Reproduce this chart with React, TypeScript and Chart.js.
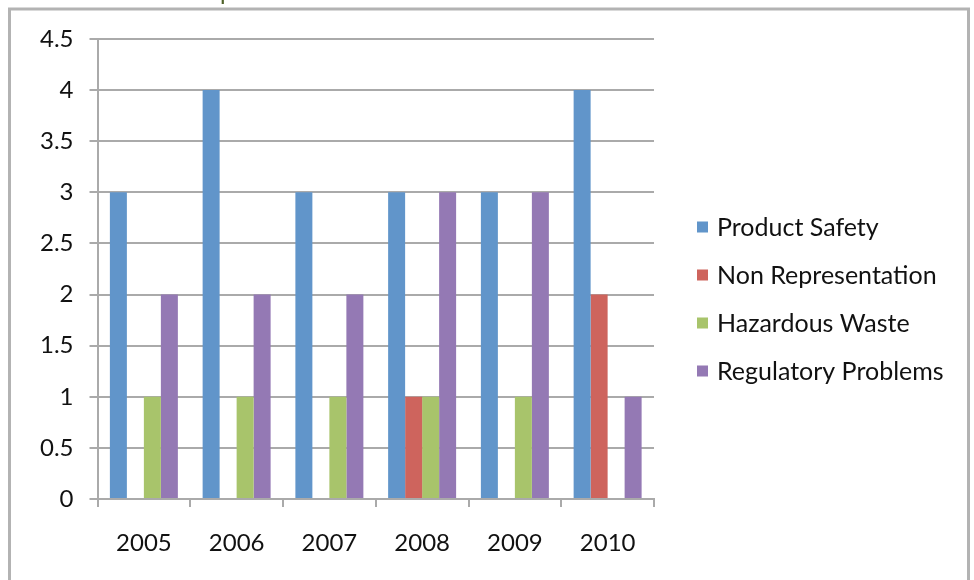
import React, { useEffect, useRef } from "react";
import { Chart, registerables } from "chart.js";

Chart.register(...registerables);

const categories = ["2005", "2006", "2007", "2008", "2009", "2010"];
const productSafety = [3, 4, 3, 3, 3, 4];
const nonRepresentation = [0, 0, 0, 1, 0, 2];
const hazardousWaste = [1, 1, 1, 1, 1, 0];
const regulatoryProblems = [2, 2, 2, 3, 3, 1];
const seriesNames = ["Product Safety", "Non Representation", "Hazardous Waste", "Regulatory Problems"];
const seriesColors = ["#6195CA", "#CE645D", "#A8C46B", "#9479B4"];
const yTickLabels = ["0", "0.5", "1", "1.5", "2", "2.5", "3", "3.5", "4", "4.5"];
const titleFragment = "p";

const FONT = "Lato, 'Open Sans', sans-serif";

export default function App() {
  const ref = useRef<HTMLCanvasElement | null>(null);

  useEffect(() => {
    document.body.style.margin = "0";
    const canvas = ref.current;
    if (!canvas) return;

    const decor = {
      id: "decor",
      beforeDraw(chart: any) {
        const ctx = chart.ctx;
        ctx.save();
        ctx.fillStyle = "#ffffff";
        ctx.fillRect(0, 0, chart.width, chart.height);
        ctx.restore();
      },
      afterDraw(chart: any) {
        const ctx = chart.ctx;
        ctx.save();
        // outer frame
        ctx.strokeStyle = "#B3B3B3";
        ctx.lineWidth = 3;
        ctx.beginPath();
        ctx.moveTo(9.5, 600);
        ctx.lineTo(9.5, 9);
        ctx.lineTo(968.5, 9);
        ctx.lineTo(968.5, 600);
        ctx.stroke();
        // cropped title fragment
        ctx.fillStyle = "#4F6228";
        ctx.font = "24px " + FONT;
        ctx.textBaseline = "alphabetic";
        ctx.textAlign = "left";
        ctx.fillText(titleFragment, 220, 0);
        // legend
        const ys = [227, 275, 323, 371];
        ctx.font = "25px " + FONT;
        ctx.textBaseline = "middle";
        chart.data.datasets.forEach((ds: any, i: number) => {
          ctx.fillStyle = ds.backgroundColor;
          ctx.fillRect(697, ys[i] - 5.5, 11, 11);
          ctx.fillStyle = "#111111";
          ctx.fillText(ds.label, 717, ys[i] + 1);
        });
        ctx.restore();
      },
    };

    const seriesData = [productSafety, nonRepresentation, hazardousWaste, regulatoryProblems];

    const chart = new Chart(canvas, {
      type: "bar",
      data: {
        labels: categories,
        datasets: seriesData.map((d, i) => ({
          label: seriesNames[i],
          data: d,
          backgroundColor: seriesColors[i],
          borderWidth: 0,
          categoryPercentage: 0.733,
          barPercentage: 1.0,
        })),
      },
      options: {
        animation: false,
        responsive: false,
        devicePixelRatio: 1,
        layout: { padding: { left: 0, top: 39, right: 320, bottom: 0 } },
        plugins: {
          legend: { display: false },
          tooltip: { enabled: false },
          title: { display: false },
        },
        scales: {
          x: {
            offset: true,
            grid: {
              drawOnChartArea: false,
              drawTicks: true,
              tickLength: 8,
              color: "#AAAAAA",
              lineWidth: 2,
            },
            border: { display: true, color: "#AAAAAA", width: 2 },
            ticks: {
              color: "#111111",
              font: { family: FONT, size: 24 },
              padding: 22,
            },
            afterFit(scale: any) {
              scale.height = 81;
            },
          },
          y: {
            min: 0,
            max: 4.5,
            ticks: {
              stepSize: 0.5,
              color: "#111111",
              font: { family: FONT, size: 24 },
              padding: 16,
              callback: (_v: any, i: number) => yTickLabels[i],
            },
            grid: {
              color: "#AAAAAA",
              lineWidth: 2,
              tickLength: 8,
              drawTicks: true,
            },
            border: { display: true, color: "#AAAAAA", width: 2 },
            afterFit(scale: any) {
              scale.width = 97.5;
            },
          },
        },
      },
      plugins: [decor],
    });

    return () => chart.destroy();
  }, []);

  return (
    <div style={{ width: 974, height: 580 }}>
      <canvas ref={ref} width={974} height={580} style={{ display: "block" }} />
    </div>
  );
}
